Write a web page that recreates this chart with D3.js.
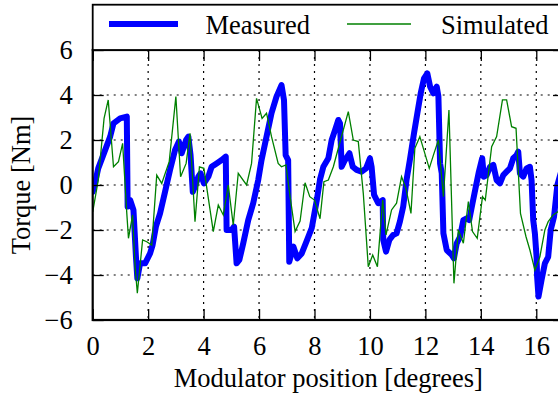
<!DOCTYPE html>
<html>
<head>
<meta charset="utf-8">
<script src="https://cdn.jsdelivr.net/npm/d3@7"></script>
<style>
  html, body { margin: 0; padding: 0; background: #fff; overflow: hidden; }
  svg { display: block; }
  text { font-family: "Liberation Serif", "DejaVu Serif", serif; fill: #000; }
</style>
</head>
<body>
<svg id="chart" width="558" height="395"></svg>
<script>
// Torque traces, position in degrees and torque in Nm
const measuredX = [0.0, 0.08, 0.2, 0.38, 0.63, 0.75, 0.99, 1.23, 1.26, 1.35, 1.47, 1.56, 1.61, 1.71, 1.89, 2.07, 2.16, 2.28, 2.43, 2.61, 2.79, 2.97, 3.11, 3.21, 3.37, 3.45, 3.53, 3.61, 3.69, 3.81, 3.89, 4.01, 4.17, 4.29, 4.47, 4.65, 4.8, 4.83, 5.01, 5.1, 5.19, 5.29, 5.43, 5.61, 5.79, 5.97, 6.09, 6.27, 6.45, 6.63, 6.81, 6.9, 6.96, 7.05, 7.09, 7.24, 7.38, 7.54, 7.72, 7.9, 8.08, 8.2, 8.32, 8.5, 8.62, 8.74, 8.86, 8.92, 8.98, 9.1, 9.26, 9.38, 9.52, 9.7, 9.86, 10.0, 10.06, 10.15, 10.3, 10.46, 10.48, 10.58, 10.7, 10.84, 10.96, 11.08, 11.2, 11.32, 11.44, 11.59, 11.71, 11.83, 11.95, 12.07, 12.17, 12.29, 12.41, 12.47, 12.53, 12.59, 12.65, 12.77, 12.95, 13.03, 13.13, 13.25, 13.37, 13.49, 13.58, 13.7, 13.82, 13.93, 14.05, 14.11, 14.21, 14.33, 14.45, 14.57, 14.69, 14.81, 14.93, 15.05, 15.17, 15.29, 15.35, 15.41, 15.53, 15.65, 15.77, 15.83, 15.89, 15.95, 16.01, 16.03, 16.08, 16.19, 16.31, 16.43, 16.52, 16.64, 16.76, 16.9];
const measuredY = [-0.3, 0.07, 0.74, 1.33, 2.15, 2.74, 2.96, 3.04, -0.96, -0.67, -1.11, -3.19, -4.15, -3.48, -3.48, -3.04, -2.67, -1.85, -1.26, -0.3, 0.67, 1.56, 1.93, 1.41, 2.0, 2.15, 1.33, -0.3, -0.07, 0.37, 0.52, 0.07, 0.37, 0.81, 0.96, 1.11, 1.26, -2.0, -2.0, -1.85, -3.48, -3.33, -2.59, -1.56, -0.81, 0.22, 1.11, 2.15, 3.19, 3.93, 4.44, 3.78, 1.33, 1.11, -3.41, -2.74, -3.26, -3.04, -2.48, -1.92, -0.7, 0.25, 0.81, 1.19, 2.0, 2.44, 2.89, 2.74, 0.81, 1.11, 1.41, 0.81, 0.67, 0.59, 0.74, 1.19, 0.81, -0.44, -0.81, -0.67, -2.44, -2.96, -2.44, -2.22, -2.15, -1.63, -0.96, 0.22, 1.11, 2.3, 3.19, 4.07, 4.74, 4.96, 4.37, 4.07, 4.37, 3.93, 0.96, 0.52, -2.15, -2.89, -3.11, -3.26, -2.59, -2.3, -1.56, -1.48, -1.56, -0.81, -0.07, 0.59, 1.19, 0.37, 0.44, 0.81, 0.89, 0.22, 0.07, 0.44, 0.59, 0.74, 1.19, 1.33, 1.48, 0.52, 0.37, 0.74, 0.81, 0.22, -1.56, -2.15, -3.19, -4.07, -4.96, -4.22, -3.48, -3.19, -2.0, -1.41, 0.0, 0.6];

const simulatedX = [0.0, 0.2, 0.41, 0.56, 0.75, 0.93, 1.08, 1.23, 1.29, 1.44, 1.53, 1.61, 1.8, 1.95, 2.13, 2.31, 2.49, 2.76, 3.0, 3.17, 3.37, 3.51, 3.69, 3.85, 4.01, 4.35, 4.53, 4.71, 4.89, 5.07, 5.25, 5.55, 5.73, 5.91, 6.11, 6.27, 6.45, 6.69, 6.81, 6.97, 7.12, 7.3, 7.48, 7.66, 7.83, 8.0, 8.2, 8.34, 8.5, 8.68, 8.94, 9.22, 9.4, 9.58, 9.76, 9.94, 10.1, 10.27, 10.46, 10.58, 10.78, 10.96, 11.14, 11.3, 11.48, 11.62, 11.8, 12.14, 12.29, 12.47, 12.65, 12.85, 13.03, 13.19, 13.37, 13.55, 13.7, 13.87, 14.06, 14.16, 14.39, 14.57, 14.78, 14.93, 15.11, 15.27, 15.43, 15.63, 15.77, 15.95, 16.13, 16.31, 16.43, 16.61, 16.78, 16.9];
const simulatedY = [-1.2, 0.22, 2.96, 3.78, 0.81, 1.04, 1.85, -1.26, -2.37, -1.33, -3.63, -4.81, -2.44, -2.52, -2.67, 0.44, 0.07, 1.04, 3.93, 0.37, 0.96, 2.3, -1.63, 0.81, 0.74, -2.07, -0.89, -1.33, 0.0, -1.78, 0.52, 0.0, 0.96, 3.85, 2.96, 3.19, 2.15, 0.96, 0.81, 0.89, -0.52, -2.07, -1.6, 0.1, -0.52, -0.67, -1.5, 0.15, 0.22, 0.81, 2.0, 3.26, 2.0, 1.93, -0.37, -3.63, -3.11, -3.63, -0.67, -2.22, -1.11, -0.81, 0.37, -0.15, -1.26, 1.63, 2.15, 0.74, 1.33, 2.0, -0.52, 3.33, -4.37, -2.0, -2.59, -0.74, -2.07, -2.37, -0.52, -0.67, 1.7, 2.15, 3.78, 3.78, 2.59, 2.52, -1.26, -2.3, -2.89, -3.78, -3.19, -2.0, -1.63, -1.33, -1.19, -0.9];

const xTicks = [0, 2, 4, 6, 8, 10, 12, 14, 16];
const yTicks = [-6, -4, -2, 0, 2, 4, 6];
const seriesNames = ["Measured", "Simulated"];
const seriesColors = ["#0000ff", "#008000"];

const svg = d3.select("#chart");
const plotLeft = 92.7, plotRight = 564, plotTop = 50, plotBottom = 320;
const legendTop = 4.7;

const x = d3.scaleLinear().domain([0, 17]).range([plotLeft, plotRight]);
const y = d3.scaleLinear().domain([-6, 6]).range([plotBottom, plotTop]);

const fmt = v => (v < 0 ? "\u2212" + Math.abs(v) : String(v));
const fontSize = 26.5;

// clip region for the data traces
svg.append("defs").append("clipPath").attr("id", "plotClip")
  .append("rect").attr("x", plotLeft).attr("y", plotTop)
  .attr("width", plotRight - plotLeft).attr("height", plotBottom - plotTop);

// dotted grid
const grid = svg.append("g").attr("stroke", "#000").attr("stroke-width", 1.2)
  .attr("stroke-dasharray", "2,5");
grid.selectAll("line.gx").data(xTicks.filter(v => v > 0)).join("line")
  .attr("x1", d => x(d)).attr("x2", d => x(d)).attr("y1", plotTop).attr("y2", plotBottom);
grid.selectAll("line.gy").data(yTicks.filter(v => v > -6 && v < 6)).join("line")
  .attr("y1", d => y(d)).attr("y2", d => y(d)).attr("x1", plotLeft).attr("x2", plotRight);

// traces
const line = (xs, ys) => d3.line().x((d, i) => x(xs[i])).y((d, i) => y(ys[i]))(xs);
const traces = svg.append("g").attr("clip-path", "url(#plotClip)").attr("fill", "none");
traces.append("path").attr("d", line(measuredX, measuredY))
  .attr("stroke", seriesColors[0]).attr("stroke-width", 6)
  .attr("stroke-linejoin", "round").attr("stroke-linecap", "round");
traces.append("path").attr("d", line(simulatedX, simulatedY))
  .attr("stroke", seriesColors[1]).attr("stroke-width", 1.3)
  .attr("stroke-linejoin", "miter");

// axes with inward ticks on every side
const tickLen = 11;
const axisG = svg.append("g");
const bottomAxis = d3.axisBottom(x).tickValues(xTicks).tickSizeInner(-tickLen).tickSizeOuter(0).tickPadding(tickLen + 5).tickFormat(fmt);
const topAxis = d3.axisTop(x).tickValues(xTicks).tickSizeInner(-tickLen).tickSizeOuter(0).tickFormat("");
const leftAxis = d3.axisLeft(y).tickValues(yTicks).tickSizeInner(-tickLen).tickSizeOuter(0).tickPadding(tickLen + 9).tickFormat(fmt);
const rightAxis = d3.axisRight(y).tickValues(yTicks).tickSizeInner(-tickLen).tickSizeOuter(0).tickFormat("");

function styleAxis(g) {
  g.select(".domain").remove();
  g.selectAll(".tick line").attr("stroke", "#000").attr("stroke-width", 1.3);
  g.selectAll(".tick text").attr("font-size", fontSize)
    .attr("font-family", "Liberation Serif, DejaVu Serif, serif").attr("fill", "#000");
}
axisG.append("g").attr("transform", `translate(0,${plotBottom})`).call(bottomAxis).call(styleAxis);
axisG.append("g").attr("transform", `translate(0,${plotTop})`).call(topAxis).call(styleAxis);
axisG.append("g").attr("transform", `translate(${plotLeft},0)`).call(leftAxis).call(styleAxis);
axisG.append("g").attr("transform", `translate(${plotRight},0)`).call(rightAxis).call(styleAxis);

// frame
svg.append("rect").attr("x", plotLeft).attr("y", plotTop)
  .attr("width", plotRight - plotLeft).attr("height", plotBottom - plotTop)
  .attr("fill", "none").attr("stroke", "#000").attr("stroke-width", 2.2);

// legend box above the axes
const legend = svg.append("g");
legend.append("rect").attr("x", plotLeft).attr("y", legendTop)
  .attr("width", plotRight - plotLeft).attr("height", plotTop - legendTop)
  .attr("fill", "#fff").attr("stroke", "#000").attr("stroke-width", 1.8);
const legendItems = [
  { x1: 109, x2: 178, tx: 205.5, w: 6 },
  { x1: 347, x2: 411, tx: 441, w: 1.3 }
];
legendItems.forEach((it, i) => {
  legend.append("line").attr("x1", it.x1).attr("x2", it.x2).attr("y1", 24).attr("y2", 24)
    .attr("stroke", seriesColors[i]).attr("stroke-width", it.w);
  legend.append("text").attr("x", it.tx).attr("y", 33.5).attr("font-size", fontSize).text(seriesNames[i]);
});

// axis titles
svg.append("text").attr("x", (plotLeft + plotRight) / 2).attr("y", 387).attr("text-anchor", "middle")
  .attr("font-size", fontSize).text("Modulator position [degrees]");
svg.append("text").attr("transform", `translate(30,${(plotTop + plotBottom) / 2}) rotate(-90)`)
  .attr("text-anchor", "middle").attr("font-size", fontSize).text("Torque [Nm]");
</script>
</body>
</html>
